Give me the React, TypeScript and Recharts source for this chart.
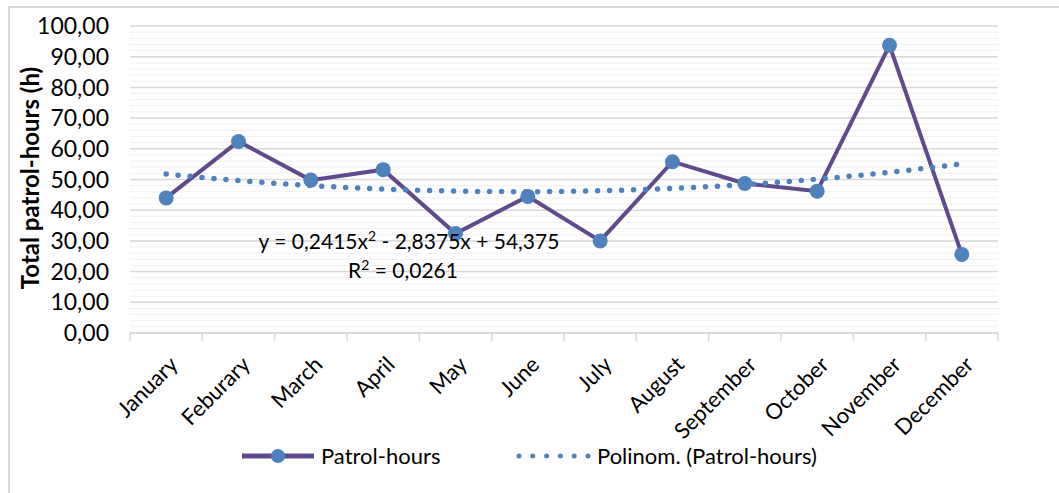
import { LineChart, Line, XAxis, YAxis, CartesianGrid } from "recharts";

const MONTHS = [
  "January",
  "Feburary",
  "March",
  "April",
  "May",
  "June",
  "July",
  "August",
  "September",
  "October",
  "November",
  "December",
];

const PATROL_HOURS = [44.0, 62.4, 49.8, 53.2, 32.4, 44.5, 30.0, 55.8, 48.7, 46.2, 93.7, 25.6];

// Excel polynomial trendline (order 2), values at each month
const TREND = [51.78, 49.67, 48.04, 46.89, 46.22, 46.04, 46.33, 47.11, 48.37, 50.12, 52.35, 55.07];

const Y_TICKS = [0, 10, 20, 30, 40, 50, 60, 70, 80, 90, 100];
const Y_MINOR_TICKS = Array.from({ length: 51 }, (_, i) => i * 2);

// category centres get labels, the half steps are the category boundaries
const X_TICKS = Array.from({ length: 25 }, (_, i) => 0.5 + i * 0.5);

const data = MONTHS.map((month, i) => ({
  x: i + 1,
  month,
  hours: PATROL_HOURS[i],
  trend: TREND[i],
}));

const FONT = "Lato, 'Open Sans', sans-serif";
const PURPLE = "#5f4a8b";
const BLUE = "#4f81bd";
const GRID = "#d9d9d9";

const fmt = (v: number) => v.toFixed(2).replace(".", ",");

function MonthTick({ x, y, payload }: any) {
  const v = payload.value as number;
  if (!Number.isInteger(v)) {
    return <line x1={x} y1={y} x2={x} y2={y + 8} stroke={GRID} strokeWidth={1.5} />;
  }
  const ax = x + 13;
  const ay = y + 33;
  return (
    <text
      x={ax}
      y={ay}
      textAnchor="end"
      transform={`rotate(-45, ${ax}, ${ay})`}
      fontFamily={FONT}
      fontSize={22}
      fill="#000"
    >
      {MONTHS[v - 1]}
    </text>
  );
}

export default function App() {
  return (
    <div
      style={{
        position: "absolute",
        left: 0,
        top: 0,
        width: 1059,
        height: 493,
        background: "#fff",
        overflow: "hidden",
      }}
    >
      <div
        style={{
          position: "absolute",
          left: 8,
          top: 6,
          width: 1200,
          height: 600,
          border: "2px solid #d9d9d9",
        }}
      />
      <div style={{ position: "absolute", left: 0, top: 0 }}>
        <LineChart
          width={1059}
          height={493}
          data={data}
          margin={{ top: 26, right: 61, bottom: 100, left: 0 }}
        >
          <CartesianGrid yAxisId="minor" vertical={false} stroke="#f0f0f0" strokeWidth={1} />
          <CartesianGrid vertical={false} stroke={GRID} strokeWidth={1.5} />
          <XAxis
            dataKey="x"
            type="number"
            domain={[0.5, 12.5]}
            ticks={X_TICKS}
            interval={0}
            height={60}
            tickSize={0}
            tickMargin={0}
            tickLine={false}
            axisLine={{ stroke: GRID, strokeWidth: 1.5 }}
            tick={<MonthTick />}
          />
          <YAxis
            domain={[0, 100]}
            ticks={Y_TICKS}
            interval={0}
            width={130}
            tickSize={0}
            tickMargin={21}
            axisLine={false}
            tickLine={false}
            tickFormatter={fmt}
            tick={{ fontFamily: FONT, fontSize: 23, fill: "#000" }}
          />
          <YAxis yAxisId="minor" domain={[0, 100]} ticks={Y_MINOR_TICKS} interval={0} hide />
          <Line
            dataKey="hours"
            stroke={PURPLE}
            strokeWidth={4}
            dot={{ r: 7.5, fill: BLUE, stroke: BLUE, strokeWidth: 0 }}
            activeDot={false}
            isAnimationActive={false}
          />
          <Line
            yAxisId="minor"
            dataKey="trend"
            type="monotone"
            stroke={BLUE}
            strokeWidth={5.5}
            strokeDasharray="0 12"
            strokeLinecap="round"
            dot={false}
            activeDot={false}
            isAnimationActive={false}
          />
        </LineChart>
      </div>
      <svg
        width={1059}
        height={493}
        style={{ position: "absolute", left: 0, top: 0, pointerEvents: "none" }}
        fontFamily={FONT}
      >
        <text
          transform="translate(39, 178) rotate(-90)"
          textAnchor="middle"
          fontSize={24}
          fontWeight="bold"
          fill="#000"
        >
          Total patrol-hours (h)
        </text>
        <text x={409} y={249} textAnchor="middle" fontSize={21} fill="#000">
          y = 0,2415x
          <tspan dy={-8} fontSize={14}>2</tspan>
          <tspan dy={8}> - 2,8375x + 54,375</tspan>
        </text>
        <text x={403} y={278} textAnchor="middle" fontSize={21} fill="#000">
          R
          <tspan dy={-8} fontSize={14}>2</tspan>
          <tspan dy={8}> = 0,0261</tspan>
        </text>
        {/* legend */}
        <line x1={242} y1={456} x2={314} y2={456} stroke={PURPLE} strokeWidth={5} />
        <circle cx={278} cy={456} r={7} fill={BLUE} />
        <text x={321} y={464} fontSize={22} fill="#000">
          Patrol-hours
        </text>
        <line
          x1={519}
          y1={456}
          x2={590}
          y2={456}
          stroke={BLUE}
          strokeWidth={5}
          strokeDasharray="0 13.8"
          strokeLinecap="round"
        />
        <text x={597} y={464} fontSize={22} fill="#000">
          Polinom. (Patrol-hours)
        </text>
      </svg>
    </div>
  );
}
